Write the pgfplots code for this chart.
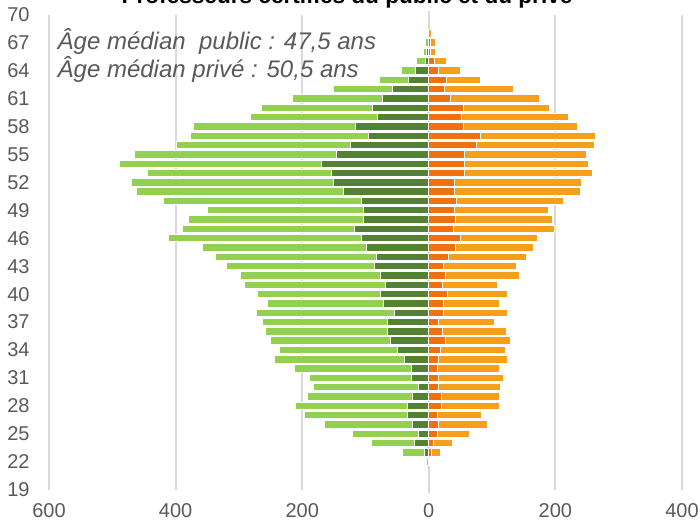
\documentclass[border=0pt]{standalone}
\usepackage{pgfplots}
\pgfplotsset{compat=1.18}
\usepackage{pgfplotstable}
\usepackage{fontspec}
\setmainfont{Liberation Sans}
\definecolor{lgreen}{HTML}{92D050}
\definecolor{dgreen}{HTML}{548235}
\definecolor{dorange}{HTML}{EE7010}
\definecolor{lorange}{HTML}{F59F1B}
\definecolor{gridgray}{HTML}{D9D9D9}
\definecolor{txtgray}{HTML}{595959}
\pgfplotstableread{
age pubD pubT privD privT
22 0 4 0 1
23 7 42 5 18
24 23 90 8 37
25 17 120 13 65
26 25 164 16 93
27 33 197 13 83
28 33 210 20 111
29 26 191 20 112
30 16 182 15 114
31 27 188 16 118
32 27 212 13 111
33 39 244 16 124
34 49 236 19 121
35 60 250 27 129
36 65 258 22 122
37 66 263 16 104
38 54 272 24 125
39 72 255 24 111
40 76 270 29 124
41 68 291 21 108
42 77 297 27 144
43 86 319 24 139
44 83 337 31 154
45 99 357 42 165
46 107 412 50 171
47 117 389 39 198
48 103 379 42 196
49 103 349 40 189
50 107 419 43 212
51 134 462 40 239
52 150 470 40 242
53 153 444 56 258
54 169 488 57 252
55 146 465 56 249
56 123 399 75 261
57 95 376 81 263
58 116 371 55 235
59 81 281 52 220
60 89 264 55 191
61 73 215 34 175
62 57 150 25 134
63 32 78 28 82
64 21 43 15 50
65 5 19 9 28
66 3 8 2 10
67 1 5 2 10
68 0 0 0 4
}\data
\begin{document}
\begin{tikzpicture}
\begin{axis}[
  scale only axis, width=316.5pt, height=237.5pt,
  xmin=-600, xmax=400, ymin=19, ymax=70,
  xtick={-600,-400,-200,0,200,400},
  xticklabels={600,400,200,0,200,400},
  ytick={19,22,...,70},
  xmajorgrids, grid style={gridgray, line width=1pt},
  axis line style={draw=none},
  major tick length=0pt,
  tick label style={font=\fontsize{10}{12}\selectfont, text=txtgray, inner sep=0pt},
  /pgf/number format/assume math mode=true,
  yticklabel style={anchor=east, xshift=-9.5pt},
  xticklabel style={anchor=north, yshift=-6.5pt},
  clip=false,
  every axis plot/.append style={xbar, bar width=3.7pt, bar shift=0pt, draw=white, line width=0.5pt},
]
\addplot[fill=lgreen] table[x expr=-\thisrow{pubT}, y=age] {\data};
\addplot[fill=dgreen] table[x expr=-\thisrow{pubD}, y=age] {\data};
\addplot[fill=lorange] table[x=privT, y=age] {\data};
\addplot[fill=dorange] table[x=privD, y=age] {\data};
\addplot[xbar=false, draw=gridgray, line width=1pt, no marks] coordinates {(0,19) (0,70)};
\node[anchor=base west, inner sep=0pt, text=txtgray, font=\fontsize{12}{14}\selectfont\itshape] at (axis cs:-600,67) [xshift=4.15pt, yshift=-3.3pt] {Âge médian\ \ public : 47,5 ans};
\node[anchor=base west, inner sep=0pt, text=txtgray, font=\fontsize{12}{14}\selectfont\itshape] at (axis cs:-600,64) [xshift=4.15pt, yshift=-3.3pt] {Âge médian privé : 50,5 ans};
\node[anchor=base, inner sep=0pt, font=\fontsize{11.3}{13}\selectfont\bfseries] at (rel axis cs:0.4708,1) [yshift=5.85pt] {Professeurs certifiés du public et du privé};
\coordinate (SW) at (rel axis cs:0,0);
\coordinate (NE) at (rel axis cs:1,1);
\end{axis}
\pgfresetboundingbox
\path[use as bounding box] ([shift={(-24.5pt,-18pt)}]SW) rectangle ([shift={(9pt,7.35pt)}]NE);
\end{tikzpicture}
\end{document}
